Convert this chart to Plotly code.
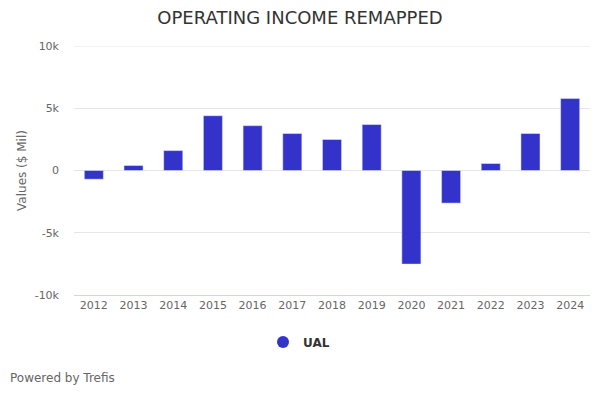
import plotly.graph_objects as go

years = ["2012", "2013", "2014", "2015", "2016", "2017", "2018",
         "2019", "2020", "2021", "2022", "2023", "2024"]
values = [-700, 400, 1600, 4400, 3600, 2970, 2490,
          3690, -7520, -2620, 560, 2970, 5780]
series_name = "UAL"
tick_vals = [-10000, -5000, 0, 5000, 10000]
tick_text = ["-10k", "-5k", "0", "5k", "10k"]

color = "#3333CC"
font = "DejaVu Sans"

fig = go.Figure()
fig.add_trace(go.Bar(x=years, y=values, marker_color=color, showlegend=False,
                     name=series_name))
fig.add_trace(go.Scatter(x=[None], y=[None], mode="markers", name=series_name,
                         marker=dict(symbol="circle", size=12, color=color)))

L, R, T, B = 74, 10, 46, 105
W, H = 600, 400
pw, ph = W - L - R, H - T - B

fig.update_layout(
    width=W, height=H,
    margin=dict(l=L, r=R, t=T, b=B),
    paper_bgcolor="white", plot_bgcolor="white",
    font=dict(family=font, color="#666666", size=11),
    title=dict(text="OPERATING INCOME REMAPPED", x=0.5, xanchor="center",
               y=1 - 18 / H, yanchor="middle",
               font=dict(size=18, color="#333333", family=font)),
    bargap=0.52,
    showlegend=True,
    legend=dict(orientation="h", x=0.5 - 33 / pw, xanchor="center",
                y=(H - B - 342) / ph, yanchor="middle",
                font=dict(size=12, color="#333333", family=font, weight="bold"),
                itemsizing="trace", itemwidth=30),
    xaxis=dict(showgrid=False, showline=True, linecolor="#ccd6eb", linewidth=1,
               ticks="", tickfont=dict(size=11, color="#666666")),
    yaxis=dict(range=[tick_vals[0], tick_vals[-1]], tickvals=tick_vals, ticktext=tick_text,
               showgrid=True, gridcolor="#e6e6e6", gridwidth=1, zeroline=False,
               showline=False, ticks="", ticklabelstandoff=14,
               tickfont=dict(size=11, color="#666666"),
               title=dict(text="Values ($ Mil)", standoff=5,
                          font=dict(size=12, color="#666666"))),
    shapes=[dict(type="line", xref="paper", yref="y", x0=0, x1=1,
                 y0=tick_vals[-1], y1=tick_vals[-1],
                 line=dict(color="#e6e6e6", width=1), layer="below")],
    annotations=[dict(text="Powered by Trefis", xref="paper", yref="paper",
                      x=(8 - L) / pw, y=(H - B - 378) / ph,
                      xanchor="left", yanchor="middle", showarrow=False,
                      font=dict(size=12, color="#666666", family=font))],
)

fig.write_html("out.html")
